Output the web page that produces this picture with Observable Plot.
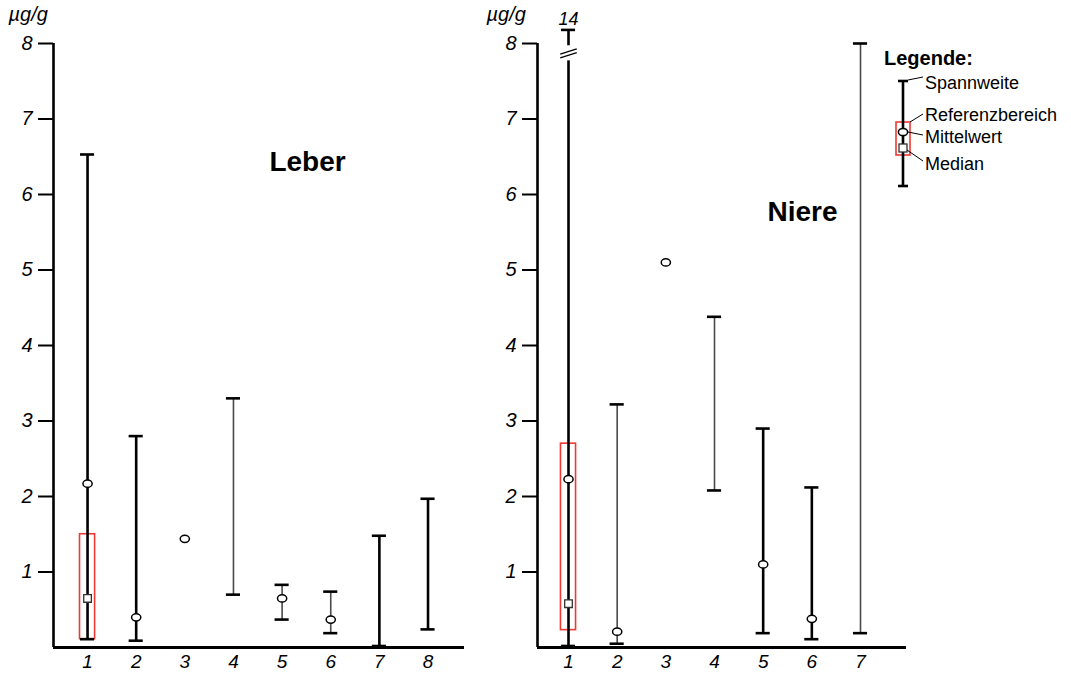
<!DOCTYPE html>
<html>
<head>
<meta charset="utf-8">
<script src="https://cdn.jsdelivr.net/npm/d3@7"></script>
<script src="https://cdn.jsdelivr.net/npm/@observablehq/plot@0.6"></script>
<style>
  html, body { margin: 0; padding: 0; background: #fff; }
  #chart { position: relative; width: 1071px; height: 673px; overflow: hidden; }
  #chart > div { position: absolute; top: 0; }
</style>
</head>
<body>
<div id="chart">
  <div id="leber" style="left:0px"></div>
  <div id="niere" style="left:470px"></div>
</div>
<script>
// Spannweite (min–max), Mittelwert, Median und Referenzbereich je Gruppe, in µg/g
const yTicks = [1, 2, 3, 4, 5, 6, 7, 8];

const leberCats    = [1, 2, 3, 4, 5, 6, 7, 8];
const leberMin     = [0.11, 0.09, null, 0.70, 0.37, 0.19, 0.02, 0.24];
const leberMax     = [6.53, 2.80, null, 3.30, 0.83, 0.74, 1.48, 1.97];
const leberMean    = [2.17, 0.40, 1.44, null, 0.65, 0.37, null, null];
const leberMedian  = [0.65, null, null, null, null, null, null, null];
const leberRefLow  = [0.11, null, null, null, null, null, null, null];
const leberRefHigh = [1.50, null, null, null, null, null, null, null];

const niereCats    = [1, 2, 3, 4, 5, 6, 7];
const niereMin     = [0.02, 0.05, null, 2.08, 0.19, 0.11, 0.19];
const niereMax     = [14, 3.22, null, 4.38, 2.90, 2.12, 8.00];
const niereMean    = [2.23, 0.21, 5.10, null, 1.10, 0.38, null];
const niereMedian  = [0.58, null, null, null, null, null, null];
const niereRefLow  = [0.23, null, null, null, null, null, null];
const niereRefHigh = [2.70, null, null, null, null, null, null];

// groups whose range line is drawn in the lighter, thinner stroke
const leberThin = [4, 5, 6];
const niereThin = [2, 4, 7];

const FONT = "'Liberation Sans', Arial, Helvetica, sans-serif";
const Y_TOP = 8;          // top of the value axis
const OVERFLOW_AT = 8.18; // where off-scale maxima are drawn
const BREAK_LOW = 7.77, BREAK_HIGH = 7.97;

// open ellipse used for the mean marker
const ellipseSymbol = {
  draw(ctx) {
    const rx = 4.6, ry = 3.6, k = 0.5523;
    ctx.moveTo(rx, 0);
    ctx.bezierCurveTo(rx, ry * k, rx * k, ry, 0, ry);
    ctx.bezierCurveTo(-rx * k, ry, -rx, ry * k, -rx, 0);
    ctx.bezierCurveTo(-rx, -ry * k, -rx * k, -ry, 0, -ry);
    ctx.bezierCurveTo(rx * k, -ry, rx, -ry * k, rx, 0);
    ctx.closePath();
  }
};

function panel(cfg) {
  const rows = cfg.cats.map((c, i) => ({
    cat: c,
    min: cfg.min[i], max: cfg.max[i],
    mean: cfg.mean[i], median: cfg.median[i],
    refLow: cfg.refLow[i], refHigh: cfg.refHigh[i],
    thin: cfg.thin.includes(c)
  }));
  const ranges = rows
    .filter(d => d.min != null && d.max != null)
    .map(d => ({...d, top: Math.min(d.max, OVERFLOW_AT), broken: d.max > Y_TOP}));
  const broken = ranges.filter(d => d.broken);
  const capW = 0.145, boxW = 0.155, brW = 0.17;

  return Plot.plot({
    width: cfg.width,
    height: 673,
    marginLeft: cfg.marginLeft,
    marginRight: cfg.marginRight,
    marginTop: 43,
    marginBottom: 26,
    style: {fontFamily: FONT, background: "transparent", overflow: "visible", color: "#000"},
    x: {type: "linear", domain: cfg.xDomain, axis: null},
    y: {domain: [0, Y_TOP], axis: null},
    marks: [
      // reference range box
      Plot.rect(rows.filter(d => d.refLow != null), {
        x1: d => d.cat - boxW, x2: d => d.cat + boxW,
        y1: "refLow", y2: "refHigh",
        fill: "none", stroke: "#ee3a33", strokeWidth: 1.6
      }),
      // range lines
      Plot.ruleX(ranges.filter(d => !d.thin), {x: "cat", y1: "min", y2: "top", stroke: "#000", strokeWidth: 2.6}),
      Plot.ruleX(ranges.filter(d => d.thin), {x: "cat", y1: "min", y2: "top", stroke: "#4a4a4a", strokeWidth: 1.6}),
      // axis break for off-scale maxima
      Plot.rect(broken, {
        x1: d => d.cat - 0.1, x2: d => d.cat + 0.1,
        y1: () => BREAK_LOW, y2: () => BREAK_HIGH, fill: "#fff"
      }),
      Plot.link(broken, {
        x1: d => d.cat - brW, x2: d => d.cat + brW,
        y1: () => BREAK_LOW + 0.04, y2: () => BREAK_LOW + 0.11,
        stroke: "#000", strokeWidth: 1.3
      }),
      Plot.link(broken, {
        x1: d => d.cat - brW, x2: d => d.cat + brW,
        y1: () => BREAK_LOW + 0.09, y2: () => BREAK_LOW + 0.16,
        stroke: "#000", strokeWidth: 1.3
      }),
      Plot.text(broken, {
        x: "cat", y: "top", text: d => String(d.max),
        lineAnchor: "bottom", dy: -5, fontSize: 18, fontStyle: "italic", fill: "#000"
      }),
      // caps
      Plot.ruleY(ranges, {y: "min", x1: d => d.cat - capW, x2: d => d.cat + capW, stroke: "#000", strokeWidth: 2.6}),
      Plot.ruleY(ranges, {y: "top", x1: d => d.cat - capW, x2: d => d.cat + capW, stroke: "#000", strokeWidth: 2.6}),
      // median and mean markers
      Plot.dot(rows.filter(d => d.median != null), {
        x: "cat", y: "median", symbol: "square", r: 4.3,
        fill: "#fff", stroke: "#333", strokeWidth: 1.3
      }),
      Plot.dot(rows.filter(d => d.mean != null), {
        x: "cat", y: "mean", symbol: ellipseSymbol,
        fill: "#fff", stroke: "#000", strokeWidth: 1.5
      }),
      // axes
      Plot.ruleX([cfg.xDomain[0]], {stroke: "#000", strokeWidth: 2.6}),
      Plot.ruleY([0], {stroke: "#000", strokeWidth: 3}),
      Plot.axisY({
        ticks: yTicks, tickSize: 15, tickPadding: 6, strokeWidth: 2,
        fontSize: 20, fontStyle: "italic", label: null, stroke: "#000", fill: "#000"
      }),
      Plot.axisX({
        ticks: cfg.cats, tickSize: 0, tickPadding: 7,
        fontSize: 19, fontStyle: "italic", label: null, fill: "#000"
      }),
      // unit and panel title
      Plot.text(["µg/g"], {
        frameAnchor: "top-left", dx: cfg.unitDx, dy: -23,
        textAnchor: "start", lineAnchor: "bottom",
        fontSize: 20, fontStyle: "italic", fill: "#000"
      }),
      Plot.text([cfg.title], {
        frameAnchor: "top-left", dx: cfg.titleDx, dy: cfg.titleDy,
        textAnchor: "middle", lineAnchor: "middle",
        fontSize: 28, fontWeight: "bold", fill: "#000"
      })
    ]
  });
}

const leberPlot = panel({
  cats: leberCats, min: leberMin, max: leberMax, mean: leberMean, median: leberMedian,
  refLow: leberRefLow, refHigh: leberRefHigh, thin: leberThin,
  title: "Leber", xDomain: [0.3, 8.75], width: 470, marginLeft: 53, marginRight: 6,
  unitDx: -45, titleDx: 254, titleDy: 119
});

const nierePlot = panel({
  cats: niereCats, min: niereMin, max: niereMax, mean: niereMean, median: niereMedian,
  refLow: niereRefLow, refHigh: niereRefHigh, thin: niereThin,
  title: "Niere", xDomain: [0.363, 7.945], width: 601, marginLeft: 67, marginRight: 165,
  unitDx: -51, titleDx: 265, titleDy: 169
});

document.getElementById("leber").appendChild(leberPlot);
document.getElementById("niere").appendChild(nierePlot);

// legend, placed in the free space right of the kidney panel
const lg = d3.select(nierePlot).append("g")
  .attr("transform", "translate(400,40)")
  .attr("font-family", FONT)
  .attr("text-anchor", "start")
  .attr("fill", "#000");

lg.append("text").attr("x", 14).attr("y", 25)
  .attr("font-size", 20).attr("font-weight", "bold").text("Legende:");

lg.append("rect").attr("x", 26).attr("y", 82).attr("width", 14).attr("height", 33)
  .attr("fill", "none").attr("stroke", "#ee3a33").attr("stroke-width", 1.6);
lg.append("line").attr("x1", 33).attr("x2", 33).attr("y1", 41).attr("y2", 146)
  .attr("stroke", "#000").attr("stroke-width", 2.6);
for (const y of [41, 146]) {
  lg.append("line").attr("x1", 28).attr("x2", 38).attr("y1", y).attr("y2", y)
    .attr("stroke", "#000").attr("stroke-width", 2.6);
}
lg.append("ellipse").attr("cx", 33).attr("cy", 92).attr("rx", 4.6).attr("ry", 3.6)
  .attr("fill", "#fff").attr("stroke", "#000").attr("stroke-width", 1.5);
lg.append("rect").attr("x", 29).attr("y", 104).attr("width", 8).attr("height", 8)
  .attr("fill", "#fff").attr("stroke", "#333").attr("stroke-width", 1.3);

const legendItems = [
  {label: "Spannweite",      y: 49,  from: [38, 40],  to: [53, 37]},
  {label: "Referenzbereich", y: 81,  from: [40, 82],  to: [53, 74]},
  {label: "Mittelwert",      y: 103, from: [38, 92],  to: [53, 95]},
  {label: "Median",          y: 130, from: [37, 110], to: [53, 121]}
];
for (const it of legendItems) {
  lg.append("line")
    .attr("x1", it.from[0]).attr("y1", it.from[1])
    .attr("x2", it.to[0]).attr("y2", it.to[1])
    .attr("stroke", "#000").attr("stroke-width", 1);
  lg.append("text").attr("x", 55).attr("y", it.y)
    .attr("font-size", 18).text(it.label);
}
</script>
</body>
</html>
